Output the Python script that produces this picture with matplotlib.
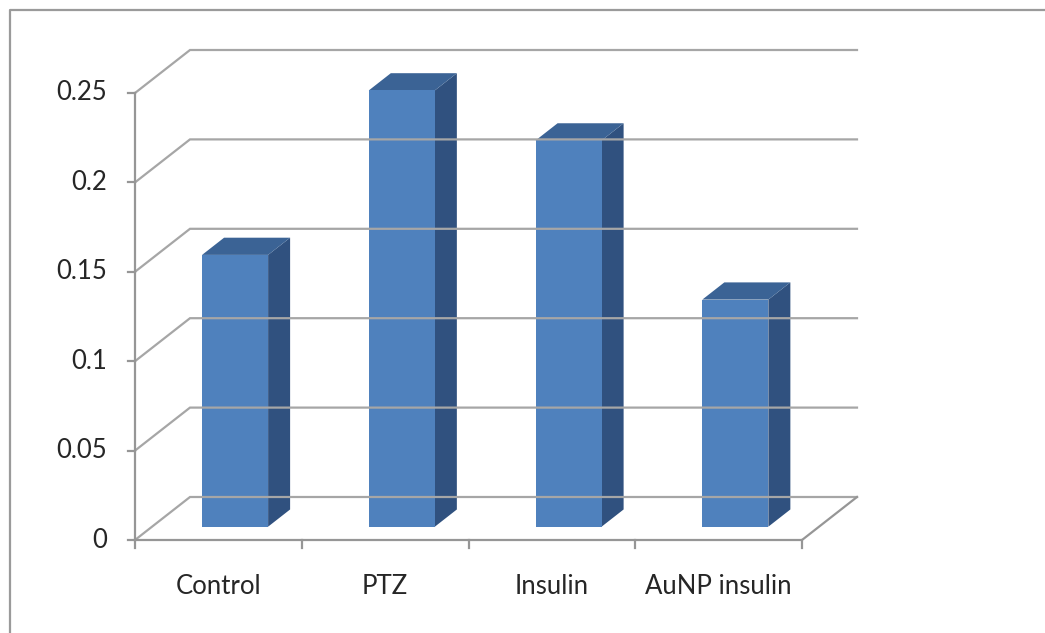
import matplotlib.pyplot as plt
from matplotlib.lines import Line2D

categories = ['Control', 'PTZ', 'Insulin', 'AuNP insulin']
values = [0.152, 0.244, 0.216, 0.127]
yticks = [0, 0.05, 0.1, 0.15, 0.2, 0.25]
ytick_labels = ['0', '0.05', '0.1', '0.15', '0.2', '0.25']

W, H = 1045, 633
plt.rcParams['font.family'] = ['Lato', 'DejaVu Sans']

fig = plt.figure(figsize=(W / 100, H / 100), dpi=100)
ax = fig.add_axes([0, 0, 1, 1])
ax.axis('off')

# front plane origin and scale (pixels)
x0_px, y0_px = 135, 540
cat_px = 166.75
val_px = 1788
ax.set_xlim(-x0_px / cat_px, (W - x0_px) / cat_px)
ax.set_ylim(-(H - y0_px) / val_px, y0_px / val_px)

# oblique depth offset in data units
DX = 55 / cat_px
DY = 43 / val_px


def proj(x, v, d):
    return x + d * DX, v + d * DY


grid_c = '#a6a6a6'
axis_c = '#969696'
text_c = '#262626'
n = len(categories)

# gridlines on side wall + back wall
for t in yticks:
    pts = [proj(0, t, 0), proj(0, t, 1), proj(n, t, 1)]
    ax.plot([p[0] for p in pts], [p[1] for p in pts], color=grid_c, lw=1.6,
            solid_joinstyle='miter')

# floor front and right edges
pts = [proj(0, 0, 0), proj(n, 0, 0), proj(n, 0, 1)]
ax.plot([p[0] for p in pts], [p[1] for p in pts], color=axis_c, lw=1.6)

# value axis
ax.plot([0, 0], [0, yticks[-1]], color=axis_c, lw=1.6)
for t, lab in zip(yticks, ytick_labels):
    ax.plot([-7 / cat_px, 0], [t, t], color=axis_c, lw=1.6)
    ax.text(-0.168, t, lab, ha='right', va='center', fontsize=18.5, color=text_c)

# category ticks + labels
for i in range(n + 1):
    ax.plot([i, i], [0, -8 / val_px], color=axis_c, lw=1.6)
for i, c in enumerate(categories):
    ax.text(i + 0.5, -47 / val_px, c, ha='center', va='center',
            fontsize=18.5, color=text_c)

# 3D bars
front_c = '#4f81bd'
side_c = '#30517f'
top_c = '#3b6395'
d0, d1 = 0.31, 0.71
for i, v in enumerate(values):
    xl, xr = i + 0.3, i + 0.696
    front = [proj(xl, 0, d0), proj(xr, 0, d0), proj(xr, v, d0), proj(xl, v, d0)]
    side = [proj(xr, 0, d0), proj(xr, 0, d1), proj(xr, v, d1), proj(xr, v, d0)]
    top = [proj(xl, v, d0), proj(xr, v, d0), proj(xr, v, d1), proj(xl, v, d1)]
    for poly, col in ((side, side_c), (top, top_c), (front, front_c)):
        ax.fill([p[0] for p in poly], [p[1] for p in poly], color=col, lw=0)

# outer chart frame
fig.add_artist(Line2D([10 / W, 10 / W, 1.01], [-0.01, 1 - 10 / H, 1 - 10 / H],
                      transform=fig.transFigure, color='#9a9a9a', lw=1.6))

fig.savefig('out.png', dpi=100)
